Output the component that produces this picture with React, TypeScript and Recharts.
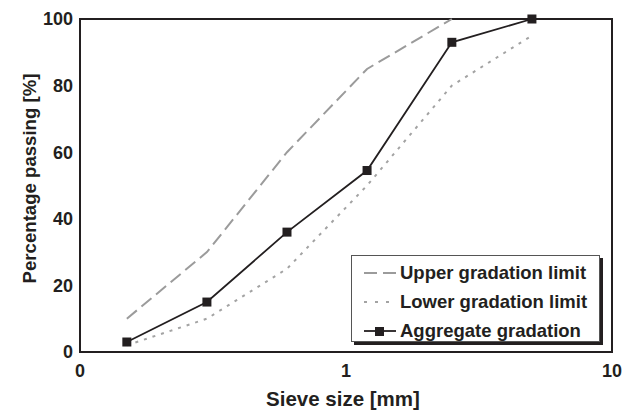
import React from "react";
import {
  LineChart,
  Line,
  XAxis,
  YAxis,
  ReferenceArea,
  Label,
} from "recharts";

// Sieve analysis: gradation envelope vs. measured aggregate gradation.

const sieveSizes = [0.15, 0.3, 0.6, 1.2, 2.5, 5];
// upper limit reaches 100 % at 2.5 mm; nothing is drawn beyond that
const upperLimit: (number | null)[] = [10, 30, 60, 85, 100, null];
const lowerLimit = [2, 10, 25, 50, 80, 95];
const aggregateGradation = [3, 15, 36, 54.5, 93, 100];

const xTicks = [0.1, 1, 10];
const yTicks = [0, 20, 40, 60, 80, 100];

const INK = "#231f20";
const UPPER_COLOR = "#9b9b9b";
const LOWER_COLOR = "#a3a3a3";
const FONT = '"Liberation Sans", Arial, Helvetica, sans-serif';

const rows = sieveSizes.map((size, i) => ({
  size,
  upper: upperLimit[i],
  lower: lowerLimit[i],
  aggregate: aggregateGradation[i],
}));

const tickStyle = { fontFamily: FONT, fontSize: 18, fontWeight: 700, fill: INK };

function SquareDot(props: any) {
  const { cx, cy, index } = props;
  if (cx == null || cy == null) return null;
  return <rect key={`sq-${index}`} x={cx - 4.5} y={cy - 4.5} width={9} height={9} fill={INK} />;
}

function YTitle(props: any) {
  const vb = props.viewBox || {};
  const x = vb.x + 36;
  const y = vb.y + vb.height / 2 - 7;
  return (
    <text
      x={x}
      y={y}
      transform={`rotate(-90 ${x} ${y})`}
      textAnchor="middle"
      style={{ fontFamily: FONT, fontSize: 18.6, fontWeight: 700, fill: INK }}
    >
      Percentage passing [%]
    </text>
  );
}

function XTitle(props: any) {
  const vb = props.viewBox || {};
  return (
    <text
      x={vb.x + vb.width / 2 - 3}
      y={vb.y + 54}
      textAnchor="middle"
      style={{ fontFamily: FONT, fontSize: 20.5, fontWeight: 700, fill: INK }}
    >
      Sieve size [mm]
    </text>
  );
}

function LegendBox() {
  const items = [
    { label: "Upper gradation limit", stroke: UPPER_COLOR, dash: "13 6", dot: false },
    { label: "Lower gradation limit", stroke: LOWER_COLOR, dash: "3 8", dot: false },
    { label: "Aggregate gradation", stroke: INK, dash: undefined, dot: true },
  ];
  return (
    <div
      style={{
        position: "absolute",
        left: 351,
        top: 255,
        width: 247,
        height: 85,
        border: "1px solid #555",
        background: "#fff",
        boxShadow: "3px 3px 0 " + INK,
        fontFamily: FONT,
        fontSize: 18.5,
        fontWeight: 700,
        color: INK,
      }}
    >
      {items.map((it, i) => (
        <div
          key={it.label}
          style={{
            position: "absolute",
            left: 0,
            top: 4 + i * 29,
            height: 26,
            display: "flex",
            alignItems: "center",
            whiteSpace: "nowrap",
          }}
        >
          <svg width={48} height={26} style={{ display: "block" }}>
            <line
              x1={12}
              x2={44}
              y1={13}
              y2={13}
              stroke={it.stroke}
              strokeWidth={it.dot ? 1.8 : 2}
              strokeDasharray={it.dash}
            />
            {it.dot && <rect x={23} y={9} width={9} height={9} fill={INK} />}
          </svg>
          <span>{it.label}</span>
        </div>
      ))}
    </div>
  );
}

export default function App() {
  return (
    <div style={{ position: "absolute", left: 0, top: 0, width: 632, height: 412, background: "#fff" }}>
      <LineChart width={632} height={412} data={rows} margin={{ top: 19, right: 20, bottom: 0, left: 0 }}>
        <XAxis
          dataKey="size"
          type="number"
          scale="log"
          domain={[0.1, 10]}
          ticks={xTicks}
          allowDataOverflow
          height={60}
          axisLine={{ stroke: INK, strokeWidth: 2 }}
          tickLine={false}
          tickSize={10}
          tickMargin={2}
          tick={tickStyle}
          tickFormatter={(v: number) => (v < 1 ? "0" : String(v))}
          interval={0}
        >
          <Label content={<XTitle />} />
        </XAxis>
        <YAxis
          type="number"
          domain={[0, 100]}
          ticks={yTicks}
          width={80}
          axisLine={{ stroke: INK, strokeWidth: 2 }}
          tickLine={false}
          tickSize={5}
          tickMargin={2}
          tick={tickStyle}
          interval={0}
        >
          <Label content={<YTitle />} />
        </YAxis>
        <ReferenceArea
          x1={0.1}
          x2={10}
          y1={0}
          y2={100}
          fill="none"
          fillOpacity={0}
          stroke={INK}
          strokeWidth={2}
        />
        <Line
          dataKey="upper"
          type="linear"
          stroke={UPPER_COLOR}
          strokeWidth={2}
          strokeDasharray="13 6"
          dot={false}
          activeDot={false}
          connectNulls={false}
          isAnimationActive={false}
        />
        <Line
          dataKey="lower"
          type="linear"
          stroke={LOWER_COLOR}
          strokeWidth={2}
          strokeDasharray="3 6"
          dot={false}
          activeDot={false}
          isAnimationActive={false}
        />
        <Line
          dataKey="aggregate"
          type="linear"
          stroke={INK}
          strokeWidth={1.8}
          dot={<SquareDot />}
          activeDot={false}
          isAnimationActive={false}
        />
      </LineChart>
      <LegendBox />
    </div>
  );
}
